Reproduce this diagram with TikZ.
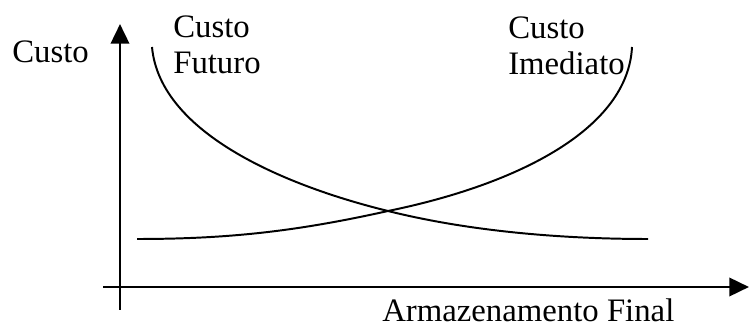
\documentclass[tikz,border=0pt]{standalone}
\usepackage{fontspec}
\setmainfont{Liberation Serif}
\usetikzlibrary{positioning}
\usetikzlibrary{arrows.meta}

\tikzset{eixo/.style={line width=2pt,-{Triangle[length=14pt,width=13pt]}},
	curva/.style={line width=1.4pt},
	rotulo/.style={anchor=base west,inner sep=0pt,align=left,font=\fontsize{23.3}{26.3}\selectfont}}

\begin{document}
\begin{tikzpicture}[x=0.025cm,y=-0.025cm]
		\useasboundingbox (0,0) rectangle (750,327);
		%\draw[gray,step=50] (0,0) grid (750,327);
		% eixos
		\coordinate (ybase) at (120,310);
		\coordinate (ytopo) at (120,24);
		\coordinate (xbase) at (103,287);
		\coordinate (xfim) at (749,287);
		\draw[eixo] (ybase) -- (ytopo);
		\draw[eixo] (xbase) -- (xfim);
		% curvas
		\coordinate (futA) at (152,47);
		\coordinate (futB) at (648,239);
		\coordinate (imeA) at (137,239);
		\coordinate (imeB) at (632,47);
		\coordinate (cruz) at (388,211);
		\draw[curva] (futA) .. controls (160,135) and (290,187) .. (cruz) .. controls (468,231) and (560,239) .. (futB);
		\draw[curva] (imeA) .. controls (230,239) and (298,231) .. (cruz) .. controls (520,184) and (628,128) .. (imeB);
		% rotulos (base = ultima linha)
		\node[rotulo] (custo) at (12,63) {Custo};
		\node[rotulo] (futuro) at (173,74) {Custo\\Futuro};
		\node[rotulo] (imediato) at (508,75) {Custo\\Imediato};
		\node[rotulo] (armaz) at (382,322) {Armazenamento Final};
	\end{tikzpicture}
\end{document}
